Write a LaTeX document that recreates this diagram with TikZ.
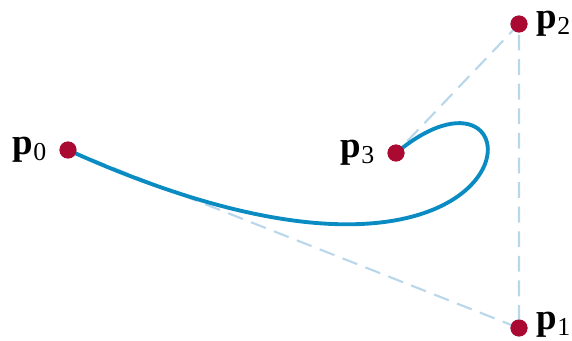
\documentclass[tikz,border=0pt]{standalone}
\usepackage{fontspec}
\setmainfont{Liberation Serif}
\usetikzlibrary{positioning}
\definecolor{ptred}{RGB}{170,10,50}
\definecolor{curveblue}{RGB}{10,140,195}
\definecolor{guideblue}{RGB}{185,215,235}
\newcommand{\ptname}[1]{\textbf{p}\textsubscript{#1}}

\begin{document}
\begin{tikzpicture}[x=0.02cm, y=-0.02cm,
    pt/.style={circle, fill=ptred, inner sep=0pt, minimum size=0.34cm},
    lbl/.style={font=\fontsize{21}{24}\selectfont, inner sep=1pt},
    guide/.style={guideblue, line width=1.2pt, dash pattern=on 9pt off 5pt},
    bez/.style={curveblue, line width=2.2pt},
  ]
    \useasboundingbox (0,0) rectangle (572,341);
    \node[pt] (p0) at (68,150) {};
    \node[pt] (p1) at (519,328) {};
    \node[pt] (p2) at (519,24) {};
    \node[pt] (p3) at (396,153) {};
    % control handles of the drawn curve (a bit wider than p1, p2)
    \coordinate (c1) at (551,368);
    \coordinate (c2) at (551,24);

    \node[lbl, left=0.2cm of p0] (l0) {\ptname{0}};
    \node[lbl, right=0.14cm of p1, yshift=0.06cm] (l1) {\ptname{1}};
    \node[lbl, right=0.14cm of p2] (l2) {\ptname{2}};
    \node[lbl, left=0.2cm of p3] (l3) {\ptname{3}};

    \draw[guide] (p0.center) -- (p1.center) -- (p2.center) -- (p3.center);
    \draw[bez] (p0.center) .. controls (c1) and (c2) .. (p3.center);
    \foreach \p in {p0,p1,p2,p3} \node[pt] at (\p) {};
  \end{tikzpicture}
\end{document}
